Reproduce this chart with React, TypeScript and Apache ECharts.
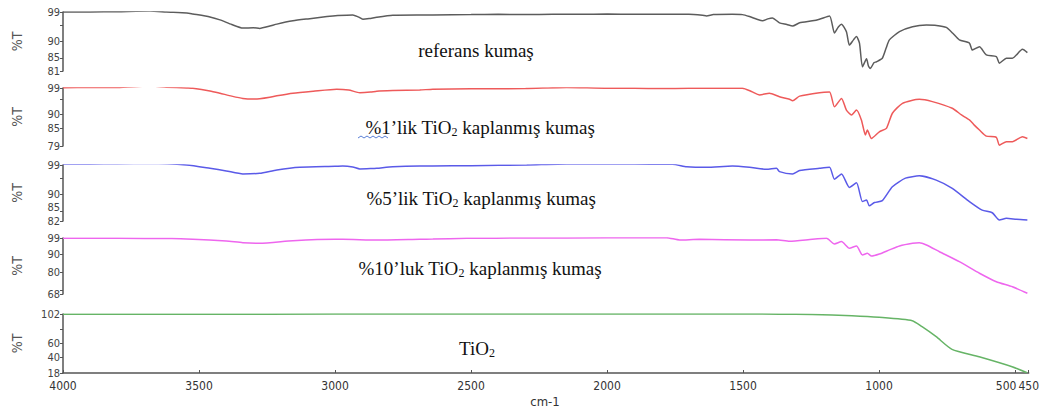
import React, { useEffect, useRef } from 'react';
import * as echarts from 'echarts';

// ---- Data (wavenumber cm-1, %T) ----
const xTickLabels = [4000, 3500, 3000, 2500, 2000, 1500, 1000, 500, 450];

const referansData: [number, number][] = [
  [4000, 99.0], [3900, 99.0], [3800, 99.1], [3680, 99.3], [3620, 99.0], [3545, 98.7], [3523, 98.4],
  [3460, 97.5], [3423, 96.6], [3380, 95.2], [3339, 94.1], [3300, 94.2], [3277, 94.0], [3240, 94.7],
  [3214, 95.3], [3155, 96.3], [3100, 96.9], [3030, 97.6], [2990, 97.9], [2935, 98.1], [2915, 97.5],
  [2898, 96.8], [2875, 97.0], [2847, 97.4], [2788, 98.0], [2700, 98.1], [2641, 98.1], [2500, 98.2],
  [2400, 98.3], [2300, 98.2], [2200, 98.3], [2100, 98.3], [2000, 98.4], [1900, 98.3], [1800, 98.3],
  [1700, 98.3], [1650, 98.0], [1635, 97.8], [1610, 98.2], [1540, 98.3], [1503, 98.2], [1477, 97.6],
  [1450, 96.8], [1429, 96.3], [1410, 96.9], [1393, 97.2], [1367, 95.7], [1340, 95.2], [1319, 94.7],
  [1293, 95.7], [1246, 96.3], [1220, 96.8], [1183, 97.8], [1165, 92.6], [1150, 94.5], [1139, 95.3],
  [1121, 93.0], [1110, 88.9], [1095, 90.5], [1084, 91.5], [1073, 89.5], [1062, 82.3], [1047, 84.7],
  [1040, 82.5], [1033, 81.8], [1020, 83.5], [1011, 83.8], [989, 84.9], [975, 88.0], [963, 90.5],
  [926, 93.0], [878, 94.5], [827, 95.0], [790, 94.9], [754, 94.3], [730, 92.5], [706, 90.5],
  [669, 89.5], [658, 87.4], [632, 88.4], [607, 85.9], [570, 85.4], [559, 83.4], [533, 84.9],
  [511, 84.9], [474, 87.6], [456, 86.6],
];

const tio1Data: [number, number][] = [
  [4000, 99.1], [3900, 99.2], [3800, 99.2], [3680, 99.7], [3620, 99.3], [3545, 99.0], [3523, 98.9],
  [3460, 98.0], [3423, 97.2], [3380, 96.2], [3339, 95.4], [3300, 95.2], [3277, 95.3], [3240, 95.8],
  [3214, 96.3], [3155, 97.2], [3080, 97.9], [2994, 98.6], [2950, 98.3], [2909, 97.4], [2870, 97.6],
  [2847, 97.9], [2788, 98.1], [2689, 98.3], [2641, 98.6], [2500, 98.7], [2300, 98.8], [2149, 99.2],
  [2000, 98.9], [1900, 98.9], [1800, 98.8], [1700, 98.9], [1600, 98.9], [1503, 98.9], [1470, 97.8],
  [1440, 96.6], [1404, 97.2], [1367, 96.0], [1330, 95.1], [1319, 94.6], [1293, 96.2], [1220, 97.4],
  [1183, 97.6], [1165, 92.5], [1139, 95.4], [1121, 91.4], [1102, 89.7], [1084, 91.4], [1066, 88.0],
  [1051, 82.8], [1044, 84.5], [1029, 81.6], [1000, 83.9], [974, 85.1], [952, 90.3], [915, 93.7],
  [853, 95.1], [805, 94.3], [732, 92.0], [698, 89.7], [669, 88.0], [651, 86.2], [632, 84.5],
  [607, 82.4], [570, 82.0], [559, 79.3], [533, 80.5], [511, 80.5], [474, 82.2], [456, 81.6],
];

const tio5Data: [number, number][] = [
  [4000, 99.3], [3900, 99.3], [3800, 99.4], [3680, 99.5], [3545, 99.0], [3460, 98.0], [3400, 97.2],
  [3339, 96.3], [3277, 96.5], [3214, 97.5], [3130, 98.3], [3000, 98.6], [2972, 98.7], [2935, 98.4],
  [2909, 97.8], [2870, 97.9], [2847, 98.0], [2788, 98.5], [2689, 98.7], [2641, 98.7], [2500, 98.8],
  [2296, 99.0], [2149, 99.3], [2000, 99.3], [1900, 99.3], [1782, 99.2], [1760, 99.2], [1708, 98.5],
  [1635, 98.3], [1540, 98.7], [1477, 98.3], [1415, 97.7], [1378, 98.0], [1367, 97.0], [1319, 96.3],
  [1293, 97.3], [1220, 98.0], [1183, 98.3], [1165, 94.7], [1139, 96.3], [1110, 92.2], [1084, 93.6],
  [1062, 87.9], [1047, 88.4], [1037, 86.6], [1018, 87.6], [989, 88.2], [952, 92.4], [904, 95.0],
  [853, 95.7], [791, 94.4], [732, 91.9], [669, 87.9], [622, 85.3], [585, 84.5], [559, 82.3],
  [533, 82.8], [496, 82.5], [456, 82.3],
];

const tio10Data: [number, number][] = [
  [4000, 98.8], [3800, 98.8], [3600, 98.7], [3523, 98.3], [3400, 97.3], [3339, 96.4], [3277, 96.1],
  [3155, 97.5], [3000, 98.3], [2972, 98.3], [2847, 97.9], [2689, 98.3], [2641, 98.4], [2516, 98.8],
  [2300, 99.0], [2000, 99.1], [1782, 99.2], [1734, 97.9], [1661, 98.3], [1477, 97.9], [1378, 98.0],
  [1330, 97.2], [1246, 98.3], [1194, 98.8], [1165, 95.7], [1139, 97.0], [1110, 93.3], [1084, 94.6],
  [1062, 89.6], [1044, 90.5], [1029, 89.0], [1000, 90.1], [963, 92.4], [926, 94.6], [878, 96.1],
  [853, 96.4], [827, 95.1], [779, 91.4], [706, 85.9], [632, 79.5], [570, 74.8], [511, 72.0],
  [456, 68.4],
];

const tio2Data: [number, number][] = [
  [4000, 101.6], [3500, 101.7], [3000, 101.9], [2500, 102.0], [2000, 102.0], [1500, 101.9],
  [1367, 101.8], [1246, 101.4], [1100, 99.5], [1000, 97.3], [878, 92.5], [842, 83.9], [790, 69.7],
  [732, 51.7], [632, 41.2], [511, 27.0], [456, 18.4],
];

const refLabels = [81, 85, 90, 99];
const tio1Labels = [79, 85, 90, 99];
const tio5Labels = [82, 90, 99];
const tio5ExtraLabels = [85];
const tio10Labels = [68, 80, 90, 99];
const tio2Labels = [18, 40, 60, 102];

const panels = [
  { data: referansData, color: '#5c5c5c', min: 81, max: 99, labels: refLabels, extra: [] as number[], ticks: [81, 85, 90, 95, 99], top: 12, height: 59,
    title: 'referans kumaş', tx: 476, ty: 50 },
  { data: tio1Data, color: '#ee5a5a', min: 79, max: 99, labels: tio1Labels, extra: [] as number[], ticks: [79, 85, 90, 95, 99], top: 88, height: 58,
    title: '%1’lik TiO{s|2} kaplanmış kumaş', tx: 480, ty: 127 },
  { data: tio5Data, color: '#5a5ae8', min: 82, max: 99, labels: tio5Labels, extra: tio5ExtraLabels, ticks: [82, 85, 90, 95, 99], top: 165, height: 56,
    title: '%5’lik TiO{s|2} kaplanmış kumaş', tx: 481, ty: 198 },
  { data: tio10Data, color: '#ee66ee', min: 68, max: 99, labels: tio10Labels, extra: [] as number[], ticks: [68, 70, 80, 90, 99], top: 238, height: 56,
    title: '%10’luk TiO{s|2} kaplanmış kumaş', tx: 480, ty: 268 },
  { data: tio2Data, color: '#66b466', min: 18, max: 102, labels: tio2Labels, extra: [] as number[], ticks: [18, 40, 60, 80, 102], top: 314, height: 59,
    title: 'TiO{s|2}', tx: 477, ty: 348 },
];

const axisFont = "'DejaVu Sans Condensed', 'Liberation Sans Narrow', 'Liberation Sans', sans-serif";
const serifFont = "'Liberation Serif', 'Times New Roman', serif";

const yLabelStyle = {
  showMinLabel: true,
  showMaxLabel: true,
  hideOverlap: false,
  color: '#444',
  fontSize: 11,
  fontFamily: axisFont,
  margin: 3,
};

export default function App() {
  const ref = useRef<HTMLDivElement>(null);
  useEffect(() => {
    document.body.style.margin = '0';
    if (!ref.current) return;
    const chart = echarts.init(ref.current, undefined, { renderer: 'svg' });
    const last = panels.length - 1;
    const mainY = panels.map((p, i) => ({
      type: 'value',
      gridIndex: i,
      min: p.min,
      max: p.max,
      position: 'left',
      axisLine: { show: true, lineStyle: { color: '#555', width: 1.5 } },
      axisTick: { show: true, length: 3, customValues: p.ticks, lineStyle: { color: '#555' } },
      axisLabel: { ...yLabelStyle, customValues: p.labels },
      splitLine: { show: false },
    }));
    const extraY = panels
      .map((p, i) => ({ p, i }))
      .filter(({ p }) => p.extra.length > 0)
      .map(({ p, i }) => ({
        type: 'value',
        gridIndex: i,
        min: p.min,
        max: p.max,
        position: 'left',
        offset: 0,
        axisLine: { show: false },
        axisTick: { show: false },
        axisLabel: {
          ...yLabelStyle,
          showMinLabel: false,
          showMaxLabel: false,
          customValues: p.extra,
          formatter: (v: number) => `{a|${v}}`,
          rich: { a: { padding: [0, 0, 7, 0], color: '#444', fontSize: 11, fontFamily: axisFont } },
        },
        splitLine: { show: false },
      }));
    const option: any = {
      animation: false,
      backgroundColor: '#ffffff',
      grid: panels.map((p) => ({ left: 63, right: 13, top: p.top, height: p.height })),
      xAxis: panels.map((p, i) => ({
        type: 'value',
        gridIndex: i,
        min: 450,
        max: 4000,
        inverse: true,
        show: i === last,
        axisLine: { show: i === last, lineStyle: { color: '#555', width: 1.5 } },
        axisTick: { show: i === last, inside: true, length: 3, customValues: xTickLabels, lineStyle: { color: '#555' } },
        axisLabel: {
          show: i === last,
          customValues: xTickLabels,
          showMinLabel: true,
          showMaxLabel: true,
          color: '#333',
          fontSize: 12,
          fontFamily: axisFont,
          margin: 7,
          formatter: (v: number) => (v === 500 ? '{r|500}' : String(v)),
          rich: { r: { padding: [0, 18, 0, 0], color: '#333', fontSize: 12, fontFamily: axisFont } },
        },
        splitLine: { show: false },
      })),
      yAxis: [...mainY, ...extraY],
      series: panels.map((p, i) => ({
        type: 'line',
        xAxisIndex: i,
        yAxisIndex: i,
        data: p.data,
        showSymbol: false,
        smooth: 0.2,
        lineStyle: { color: p.color, width: 1.5 },
        itemStyle: { color: p.color },
      })),
      graphic: [
        ...panels.map((p) => ({
          type: 'text',
          x: 17,
          y: p.top + p.height / 2,
          rotation: Math.PI / 2,
          style: {
            text: '%T',
            fill: '#555',
            fontSize: 14,
            fontFamily: axisFont,
            align: 'center',
            verticalAlign: 'middle',
          },
        })),
        ...panels.map((p) => ({
          type: 'text',
          x: p.tx,
          y: p.ty,
          style: {
            text: p.title,
            fill: '#111',
            fontSize: 19,
            fontFamily: serifFont,
            align: 'center',
            verticalAlign: 'middle',
            rich: {
              s: {
                fontSize: 12,
                fontFamily: serifFont,
                fill: '#111',
                padding: [9, 0, 0, 0],
              },
            },
          },
        })),
        {
          type: 'polyline',
          shape: {
            points: [
              [358, 138], [361, 136], [364, 138], [367, 136], [370, 138], [373, 136],
              [376, 138], [379, 136], [382, 138], [385, 136], [388, 138],
            ],
          },
          style: { stroke: '#5a7fd6', lineWidth: 1, fill: 'none' },
          silent: true,
        },
        {
          type: 'text',
          x: 545,
          y: 401,
          style: {
            text: 'cm-1',
            fill: '#333',
            fontSize: 13,
            fontFamily: axisFont,
            align: 'center',
            verticalAlign: 'middle',
          },
        },
      ],
    };
    chart.setOption(option);
    return () => chart.dispose();
  }, []);
  return <div ref={ref} style={{ width: 1042, height: 415 }} />;
}
